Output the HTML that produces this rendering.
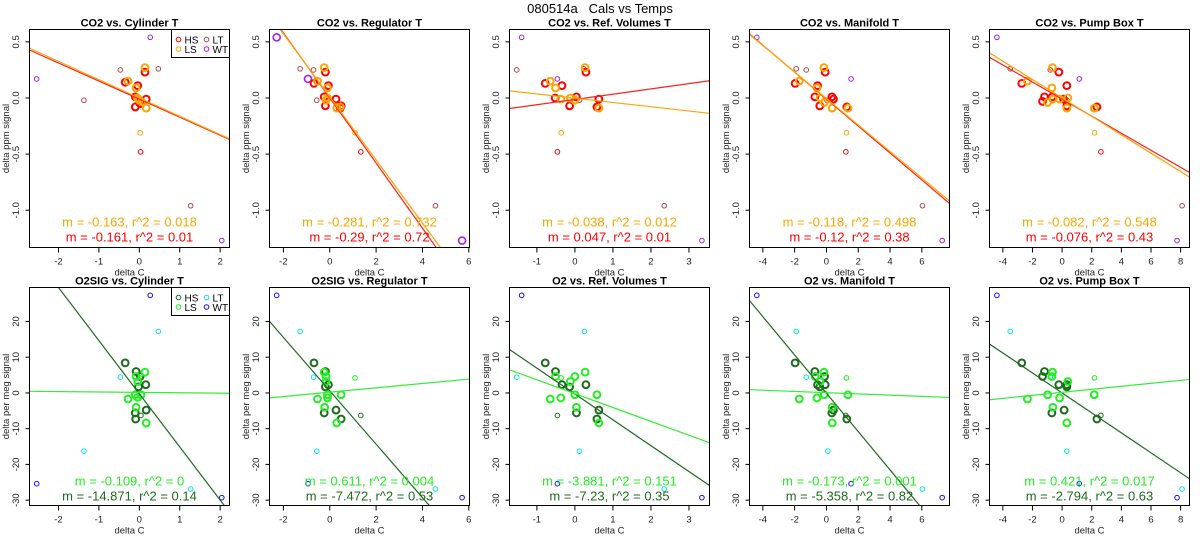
<!DOCTYPE html>
<html><head><meta charset="utf-8"><style>
body{margin:0;background:#fff;}
svg{display:block;font-family:"Liberation Sans",sans-serif;}
</style></head><body>
<svg id="chart" width="1200" height="550" viewBox="0 0 1200 550">
<rect width="1200" height="550" fill="#fff"/>
<text x="600" y="13" text-anchor="middle" font-size="13" style="white-space:pre">080514a   Cals vs Temps</text>
</svg>
<script>
// ---- data ----
const panelTitles = ["CO2 vs. Cylinder T","CO2 vs. Regulator T","CO2 vs. Ref. Volumes T","CO2 vs. Manifold T","CO2 vs. Pump Box T",
 "O2SIG vs. Cylinder T","O2SIG vs. Regulator T","O2 vs. Ref. Volumes T","O2 vs. Manifold T","O2 vs. Pump Box T"];
const xRanges = [[-2.717,2.231],[-2.6,6.03],[-1.72,3.54],[-4.84,7.74],[-4.9,8.6]];
const xTicks = [[-2,-1,0,1,2],[-2,0,2,4,6],[-1,0,1,2,3],[-4,-2,0,2,4,6],[-4,-2,0,2,4,6,8]];
const yRangeTop = [-1.332,0.61];
const yRangeBot = [-31.5,29.5];
const yTicksTop = [0.5,0.0,-0.5,-1.0];
const yTickLabelsTop = ["0.5","0.0","-0.5","-1.0"];
const yTicksBot = [20,10,0,-10,-20,-30];

const hsTop = [
 [[-0.35,0.14],[-0.04,0.11],[-0.1,0.01],[0.17,-0.01],[-0.1,-0.08],[0.14,0.23],[0.02,-0.05]],
 [[-0.68,0.13],[-0.06,0.11],[-0.19,0.23],[-0.24,0.01],[0.27,-0.01],[0.49,-0.07],[-0.19,-0.07],[0.45,-0.09]],
 [[-0.78,0.13],[-0.34,0.11],[-0.52,0.0],[0.04,0.01],[-0.14,-0.07],[0.29,0.23],[0.63,-0.01],[0.58,-0.08]],
 [[-1.97,0.13],[-0.56,0.11],[-0.73,0.01],[0.34,0.01],[-0.42,-0.07],[-0.08,0.23],[0.44,-0.01],[1.28,-0.08]],
 [[-2.72,0.13],[-1.32,-0.03],[-1.19,0.01],[-0.67,0.01],[-0.22,0.23],[0.1,-0.01],[0.32,0.11],[0.32,-0.07],[2.35,-0.08]]];
const lsTop = [
 [[-0.28,0.15],[-0.08,0.09],[0.14,0.27],[0.17,-0.09],[-0.05,0.0],[0,-0.02],[0.06,-0.035]],
 [[-0.24,0.27],[-0.53,0.15],[-0.1,0.09],[-0.16,-0.02],[-0.1,0.0],[0.3,-0.09],[0.45,-0.08]],
 [[-0.65,0.15],[-0.51,0.09],[0.27,0.27],[-0.37,-0.01],[-0.12,0.0],[0,-0.02],[0.63,-0.09]],
 [[-1.71,0.15],[-0.6,0.09],[-0.16,0.27],[-0.4,0.0],[-0.14,-0.04],[0.36,-0.09],[1.35,-0.09]],
 [[-2.34,0.15],[-0.65,0.27],[-0.69,0.09],[-0.98,-0.04],[-0.62,-0.01],[-0.17,-0.01],[0.39,0.0],[0.32,-0.09],[2.17,-0.09]]];
const hsThinTop = [[[0.03,-0.48]],[[1.34,-0.48]],[[-0.46,-0.48]],[[1.22,-0.48]],[[2.62,-0.48]]];
const lsThinTop = [[[0.02,-0.31]],[[1.09,-0.31]],[[-0.36,-0.31]],[[1.26,-0.31]],[[2.19,-0.31]]];
const ltTop = [
 [[-0.47,0.25],[0.47,0.26],[-1.37,-0.02],[1.27,-0.96]],
 [[-1.28,0.26],[-0.7,0.25],[-0.56,-0.02],[4.56,-0.96]],
 [[-1.53,0.25],[0.23,0.26],[0.12,-0.02],[2.35,-0.96]],
 [[-1.9,0.26],[-1.27,0.25],[0.03,-0.02],[6.04,-0.96]],
 [[-3.5,0.26],[-0.8,0.25],[0.32,-0.02],[8.1,-0.96]]];
const wtTop = [
 [[-2.54,0.17],[0.27,0.54],[2.04,-1.27]],
 [[-2.29,0.54],[-0.94,0.17],[5.71,-1.27]],
 [[-1.4,0.54],[-0.46,0.17],[3.34,-1.27]],
 [[-4.38,0.54],[1.55,0.17],[7.28,-1.27]],
 [[-4.4,0.54],[1.16,0.17],[7.76,-1.27]]];
const lsFitTop = [[-0.163,0.0],[-0.281,0.01],[-0.038,-0.002],[-0.118,-0.005],[-0.082,0.0]];
const hsFitTop = [[-0.161,-0.01],[-0.29,0.0],[0.047,-0.013],[-0.12,-0.01],[-0.076,-0.01]];
const lsLabelTop = ["m = -0.163, r^2 = 0.018","m = -0.281, r^2 = 0.732","m = -0.038, r^2 = 0.012","m = -0.118, r^2 = 0.498","m = -0.082, r^2 = 0.548"];
const hsLabelTop = ["m = -0.161, r^2 = 0.01","m = -0.29, r^2 = 0.72","m = 0.047, r^2 = 0.01","m = -0.12, r^2 = 0.38","m = -0.076, r^2 = 0.43"];

const hsBot = [
 [[-0.35,8.4],[-0.08,6.0],[0.02,4.6],[0.16,2.3],[-0.02,1.7],[0.17,-4.8],[-0.1,-5.6],[-0.09,-7.3]],
 [[-0.68,8.4],[-0.19,6.0],[-0.06,2.3],[-0.19,1.7],[0.27,-4.8],[-0.24,-5.6],[0.49,-7.3]],
 [[-0.78,8.4],[-0.51,6.0],[-0.34,2.3],[-0.14,1.7],[0.29,2.3],[0.04,-5.6],[0.58,-7.3],[0.63,-4.8]],
 [[-1.97,8.4],[-0.73,6.0],[-0.56,2.3],[-0.42,1.7],[-0.08,2.3],[-0.12,4.6],[0.34,-5.6],[0.44,-4.8],[1.28,-7.3]],
 [[-2.72,8.4],[-1.19,6.0],[-1.32,4.6],[-0.22,2.3],[0.32,1.7],[0.32,2.3],[-0.69,-5.6],[0.14,-4.8],[2.35,-7.3]]];
const lsBot = [
 [[-0.28,-1.7],[-0.08,4.6],[0.14,5.8],[-0.04,3.2],[-0.1,-0.5],[0.04,-0.5],[-0.04,-1.2],[-0.08,-4.0],[0.17,-8.4]],
 [[-0.53,-1.7],[-0.24,5.8],[-0.16,4.6],[-0.16,3.2],[-0.1,-0.5],[-0.1,-1.4],[0.49,-0.5],[-0.22,-4.0],[0.3,-8.4]],
 [[-0.65,-1.7],[-0.51,4.6],[-0.12,3.2],[0,4.6],[0.27,5.8],[-0.37,-1.4],[0,-0.5],[0.04,-4.0],[0.58,-0.5],[0.63,-8.4]],
 [[-1.71,-1.7],[-0.71,4.6],[-0.16,5.8],[-0.4,3.2],[-0.6,-1.4],[-0.14,-0.5],[0.36,-4.0],[0.36,-8.4],[1.35,-0.5]],
 [[-2.34,-1.7],[-0.65,5.8],[-0.69,4.6],[-0.98,-0.5],[-0.17,-1.4],[0.39,3.2],[-0.62,-4.0],[0.32,-8.4],[2.17,-0.5]]];
const hsThinBot = [[[0.04,-6.3]],[[1.34,-6.3]],[[-0.46,-6.3]],[[1.22,-6.3]],[[2.62,-6.3]]];
const lsThinBot = [[[0.02,4.2]],[[1.09,4.2]],[[-0.36,4.2]],[[1.26,4.2]],[[2.19,4.2]]];
const ltBot = [
 [[-0.47,4.4],[0.47,17.2],[-1.37,-16.3],[1.27,-26.9]],
 [[-0.7,4.4],[-1.28,17.2],[-0.56,-16.3],[4.56,-26.9]],
 [[-1.53,4.4],[0.25,17.2],[0.12,-16.3],[2.35,-26.9]],
 [[-1.27,4.4],[-1.9,17.2],[0.09,-16.3],[6.04,-26.9]],
 [[-3.5,17.2],[-0.8,4.4],[0.32,-16.3],[8.1,-26.9]]];
const wtBot = [
 [[-2.54,-25.4],[0.27,27.3],[2.04,-29.3]],
 [[-2.29,27.3],[-0.94,-25.4],[5.71,-29.3]],
 [[-1.4,27.3],[-0.46,-25.4],[3.34,-29.3]],
 [[-4.38,27.3],[1.55,-25.4],[7.28,-29.3]],
 [[-4.4,27.3],[1.16,-25.4],[7.76,-29.3]]];
const lsFitBot = [[-0.109,0.15],[0.611,0.2],[-3.881,-0.2],[-0.173,0.07],[0.421,0.16]];
const hsFitBot = [[-14.871,-0.24],[-7.472,0.6],[-7.23,-0.3],[-5.358,-0.1],[-2.794,0.0]];
const lsLabelBot = ["m = -0.109, r^2 = 0","m = 0.611, r^2 = 0.004","m = -3.881, r^2 = 0.151","m = -0.173, r^2 = 0.001","m = 0.421, r^2 = 0.017"];
const hsLabelBot = ["m = -14.871, r^2 = 0.14","m = -7.472, r^2 = 0.53","m = -7.23, r^2 = 0.35","m = -5.358, r^2 = 0.82","m = -2.794, r^2 = 0.63"];

const NS = "http://www.w3.org/2000/svg";
const svg = document.getElementById("chart");
function mk(tag, attrs, parent){
  const e = document.createElementNS(NS, tag);
  for (const k in attrs) e.setAttribute(k, attrs[k]);
  (parent||svg).appendChild(e);
  return e;
}
const colTop = {hs:"#ff0000", ls:"#ffa500", lt:"#b04a4a", wt:"#a020f0", hsLine:"#ff2020", lsLine:"#ffa500"};
const colBot = {hs:"#1e6b1e", ls:"#22ee22", lt:"#00e5ee", wt:"#1010ff", hsLine:"#1e6b1e", lsLine:"#33ee33"};

function drawPanel(i, row){
  const px = i*240;
  const L = px+29.5, R = px+229.5;
  const T = row===0 ? 29.5 : 287.5;
  const B = row===0 ? 247.5 : 505.5;
  const [x0,x1] = xRanges[i];
  const [y0,y1] = row===0 ? yRangeTop : yRangeBot;
  const sx = v => L + (v-x0)/(x1-x0)*(R-L);
  const sy = v => B - (v-y0)/(y1-y0)*(B-T);
  const col = row===0 ? colTop : colBot;
  const g = mk("g", {});
  
  
  const clipId = "clip"+row+"_"+i;
  const cp = mk("clipPath", {id:clipId}, g);
  mk("rect", {x:L, y:T, width:R-L, height:B-T}, cp);

  const t = mk("text", {x:(L+R)/2, y:T-3, "text-anchor":"middle", "font-size":"11", "font-weight":"bold"}, g);
  t.textContent = panelTitles[row*5+i];
  
  

  const pg = mk("g", {"clip-path":"url(#"+clipId+")"}, g);
  const sets = row===0
    ? [[ltTop[i],col.lt,2.3,1,'lt'],[wtTop[i],col.wt,i===1?3.5:2.3,i===1?1.6:1,'wt'],[hsThinTop[i],col.hs,2.3,1,'hs'],[lsThinTop[i],col.ls,2.3,1,'ls'],[hsTop[i],col.hs,3.4,2,'hs'],[lsTop[i],col.ls,3.4,2,'ls']]
    : [[ltBot[i],col.lt,2.3,1,'lt'],[wtBot[i],col.wt,2.3,1,'wt'],[hsThinBot[i],col.hs,2.3,1,'hs'],[lsThinBot[i],col.ls,2.3,1,'ls'],[hsBot[i],col.hs,3.4,2,'hs'],[lsBot[i],col.ls,3.4,2,'ls']];
  sets.forEach(([pts,c,r,w,nm])=>{
    pts.forEach(p=>{
      const ci = mk("circle", {cx:sx(p[0]), cy:sy(p[1]), r:r, fill:"none", stroke:c, "stroke-width":w}, pg);
      
      
    });
  });
  const fits = row===0 ? [[hsFitTop[i],col.hsLine,'hs'],[lsFitTop[i],col.lsLine,'ls']] : [[hsFitBot[i],col.hsLine,'hs'],[lsFitBot[i],col.lsLine,'ls']];
  fits.forEach(([f,c,nm])=>{
    const ln = mk("line", {x1:sx(x0), y1:sy(f[0]*x0+f[1]), x2:sx(x1), y2:sy(f[0]*x1+f[1]), stroke:c, "stroke-width":1.2}, pg);
    
    
  });
  const labs = row===0 ? [[lsLabelTop[i],col.ls,T+197],[hsLabelTop[i],col.hs,T+212]] : [[lsLabelBot[i],col.ls,T+198],[hsLabelBot[i],col.hs,T+213]];
  labs.forEach(([s,c,y],k)=>{
    const tx = mk("text", {x:(L+R)/2, y:y, "text-anchor":"middle", "font-size":"13", fill:c}, g);
    tx.textContent = s;
    
    
  });

  const bx = mk("rect", {x:L, y:T, width:R-L, height:B-T, fill:"none", stroke:"#000", "stroke-width":1}, g);
  
  

  const xa = mk("g", {}, g);
  
  
  const xt = xTicks[i];
  mk("line", {x1:sx(xt[0]), y1:B, x2:sx(xt[xt.length-1]), y2:B, stroke:"#000"}, xa);
  xt.forEach(v=>{
    mk("line", {x1:sx(v), y1:B, x2:sx(v), y2:B+5, stroke:"#000"}, xa);
    const tl = mk("text", {x:sx(v), y:B+17, "text-anchor":"middle", "font-size":"9.5", fill:"#222"}, xa);
    tl.textContent = String(v);
  });
  const xl = mk("text", {x:(L+R)/2, y:B+28, "text-anchor":"middle", "font-size":"9.5", fill:"#222"}, g);
  xl.textContent = "delta C";
  
  

  const ya = mk("g", {}, g);
  
  
  const yt = row===0 ? yTicksTop : yTicksBot;
  yt.forEach((v,k)=>{
    mk("line", {x1:L-4, y1:sy(v), x2:L, y2:sy(v), stroke:"#000"}, ya);
    const lx = px+19, ly = sy(v);
    const tl = mk("text", {x:lx, y:ly, "text-anchor":"middle", "font-size":"9.5", fill:"#222", transform:"rotate(-90 "+lx+" "+ly+")"}, ya);
    tl.textContent = row===0 ? yTickLabelsTop[k] : String(v);
  });
  mk("line", {x1:L, y1:sy(yt[0]), x2:L, y2:sy(yt[yt.length-1]), stroke:"#000"}, ya);
  const ylx = px+9, yly = (T+B)/2;
  const yl = mk("text", {x:ylx, y:yly, "text-anchor":"middle", "font-size":"9.5", fill:"#222", transform:"rotate(-90 "+ylx+" "+yly+")"}, g);
  yl.textContent = row===0 ? "delta ppm signal" : "delta per meg signal";
  
  

  if (i===0){
    const lg = mk("g", {}, g);
    
    
    mk("rect", {x:L+142, y:T, width:R-L-142, height:28, fill:"#fff", stroke:"#000"}, lg);
    const items = [["HS",col.hs,0,0],["LT",col.lt,1,0],["LS",col.ls,0,1],["WT",col.wt,1,1]];
    items.forEach(([n,c,cx,cy])=>{
      const ex = L+149+cx*28, ey = T+10+cy*9.5;
      const e = mk("g", {}, lg);
      
      
      mk("circle", {cx:ex, cy:ey, r:2.3, fill:"none", stroke:c, "stroke-width":1}, e);
      const lt = mk("text", {x:ex+6, y:ey+4, "font-size":"10"}, e);
      lt.textContent = n;
    });
  }
}
for (let r=0;r<2;r++) for (let i=0;i<5;i++) drawPanel(i,r);
</script>
</body></html>
